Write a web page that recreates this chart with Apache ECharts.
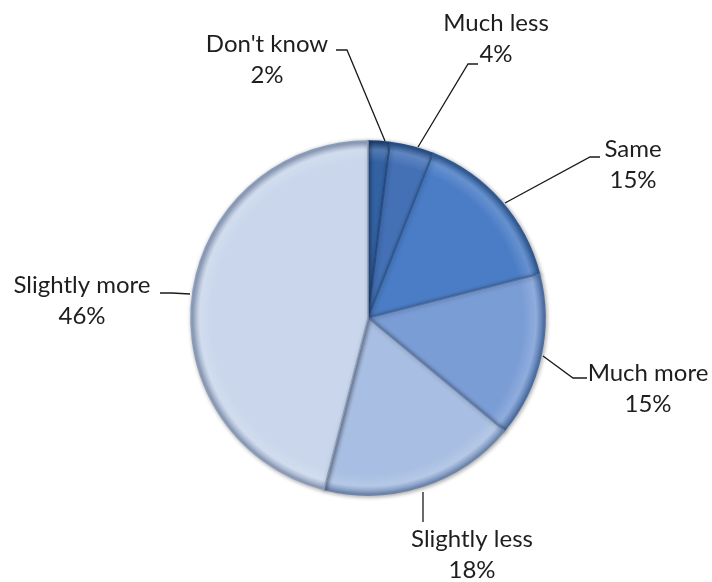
<!DOCTYPE html>
<html>
<head>
<meta charset="utf-8">
<script src="https://cdn.jsdelivr.net/npm/echarts@6/dist/echarts.min.js"></script>
<style>
html,body{margin:0;padding:0;background:#fff;}
#c{width:712px;height:582px;}
</style>
</head>
<body>
<div id="c"></div>
<script>
const categories = ["Don't know", "Much less", "Same", "Much more", "Slightly less", "Slightly more"];
const values = [2, 4, 15, 15, 18, 46];

const sliceColors = ['#3362a3', '#4471b6', '#4b7dc6', '#7b9dd6', '#a8bee2', '#c9d6eb'];
const edgeColors  = ['#1f3f6e', '#284f86', '#2f5a93', '#4b6ea5', '#6d86b0', '#8c9dbb'];
// label block centres and leader lines (layout only)
const labelCenters = [[267, 60], [496, 39], [633, 165], [648, 389], [472, 555], [82, 301]];
const leaderLines = [
  [[385, 141], [347, 50], [336, 50]],
  [[418, 147], [468, 64], [478, 64]],
  [[505, 203], [590, 157], [600, 157]],
  [[543, 356], [573, 378], [587, 378]],
  [[423, 492], [423, 522], [423, 522]],
  [[190, 294], [172, 293], [160, 293]]
];

function lighten(hex, f) {
  const n = parseInt(hex.slice(1), 16);
  let r = n >> 16, g = (n >> 8) & 255, b = n & 255;
  r = Math.round(r + (255 - r) * f); g = Math.round(g + (255 - g) * f); b = Math.round(b + (255 - b) * f);
  return 'rgb(' + r + ',' + g + ',' + b + ')';
}

const cx = 368, cy = 318, R = 177;
const data = categories.map((name, i) => ({
  name: name,
  value: values[i],
  itemStyle: {
    color: {
      type: 'radial', x: cx, y: cy, r: R, global: true,
      colorStops: [
        { offset: 0, color: sliceColors[i] },
        { offset: 0.88, color: sliceColors[i] },
        { offset: 0.95, color: lighten(sliceColors[i], 0.15) },
        { offset: 1, color: edgeColors[i] }
      ]
    },
    borderColor: edgeColors[i],
    borderWidth: 1.5
  }
}));

const chart = echarts.init(document.getElementById('c'), null, { renderer: 'canvas' });
chart.setOption({
  backgroundColor: '#ffffff',
  animation: false,
  series: [{
    type: 'pie',
    center: [cx, cy],
    radius: [0, R],
    startAngle: 90,
    clockwise: true,
    data: data,
    itemStyle: {
      shadowBlur: 4,
      shadowColor: 'rgba(0,0,0,0.35)',
      shadowOffsetX: 1,
      shadowOffsetY: 1
    },
    label: {
      show: true,
      position: 'outside',
      formatter: '{b}\n{c}%',
      fontFamily: 'Lato',
      fontSize: 24,
      lineHeight: 31,
      color: '#1e1e1e',
      align: 'center',
      overflow: 'none'
    },
    labelLine: {
      show: true,
      lineStyle: { color: '#1a1a1a', width: 1.3 }
    },
    labelLayout: function (p) {
      const i = p.dataIndex;
      return {
        x: labelCenters[i][0],
        y: labelCenters[i][1],
        width: 200,
        align: 'center',
        verticalAlign: 'middle',
        labelLinePoints: leaderLines[i]
      };
    }
  }]
});
</script>
</body>
</html>
